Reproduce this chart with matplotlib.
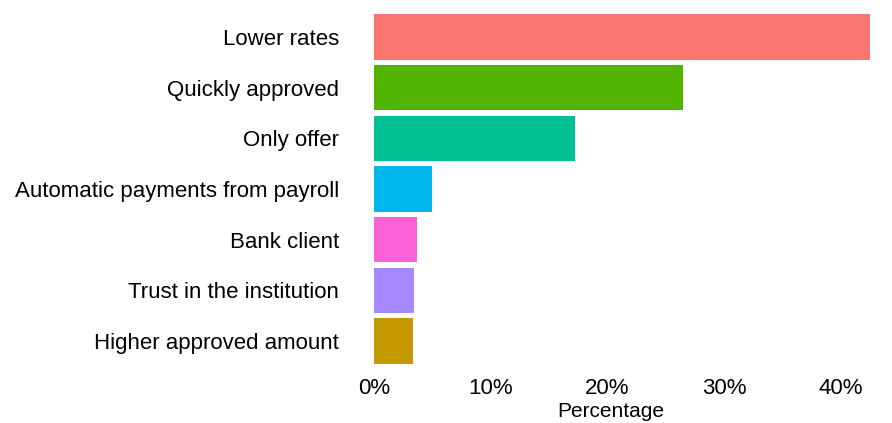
import matplotlib.pyplot as plt

plt.rcParams['font.family'] = ['Liberation Sans', 'DejaVu Sans']

reasons = ["Lower rates", "Quickly approved", "Only offer",
           "Automatic payments from payroll", "Bank client",
           "Trust in the institution", "Higher approved amount"]
pct = [42.5, 26.5, 17.25, 5.0, 3.7, 3.45, 3.37]
colors = ["#F8766D", "#53B400", "#00C094", "#00B6EB", "#FB61D7",
          "#A58AFF", "#C49A00"]
xticks = [0, 10, 20, 30, 40]

fig = plt.figure(figsize=(8.92, 4.23), dpi=100)
ax = fig.add_axes([373.7 / 892, 1 - 371.4 / 423, (870 - 373.7) / 892, (371.4 - 6.6) / 423])

ypos = list(range(len(reasons)))
ax.barh(ypos, pct, height=0.9, color=colors)
ax.set_ylim(len(reasons) - 0.4, -0.6)
ax.set_xlim(0, 42.5)

ax.set_yticks(ypos)
ax.set_yticklabels(reasons, fontsize=16)
ax.set_xticks(xticks)
ax.set_xticklabels([f"{v}%" for v in xticks], fontsize=16)
ax.tick_params(axis='y', length=0, pad=25)
ax.tick_params(axis='x', length=0, pad=5)
for s in ax.spines.values():
    s.set_visible(False)

# x label sits at the very bottom edge, kept inside the figure
ax.set_xlabel("Percentage", fontsize=15, va='bottom')
ax.xaxis.set_label_coords((611 - 373.7) / (870 - 373.7), -(421 - 371.4) / 364.8)

fig.savefig("out.png", dpi=100)
